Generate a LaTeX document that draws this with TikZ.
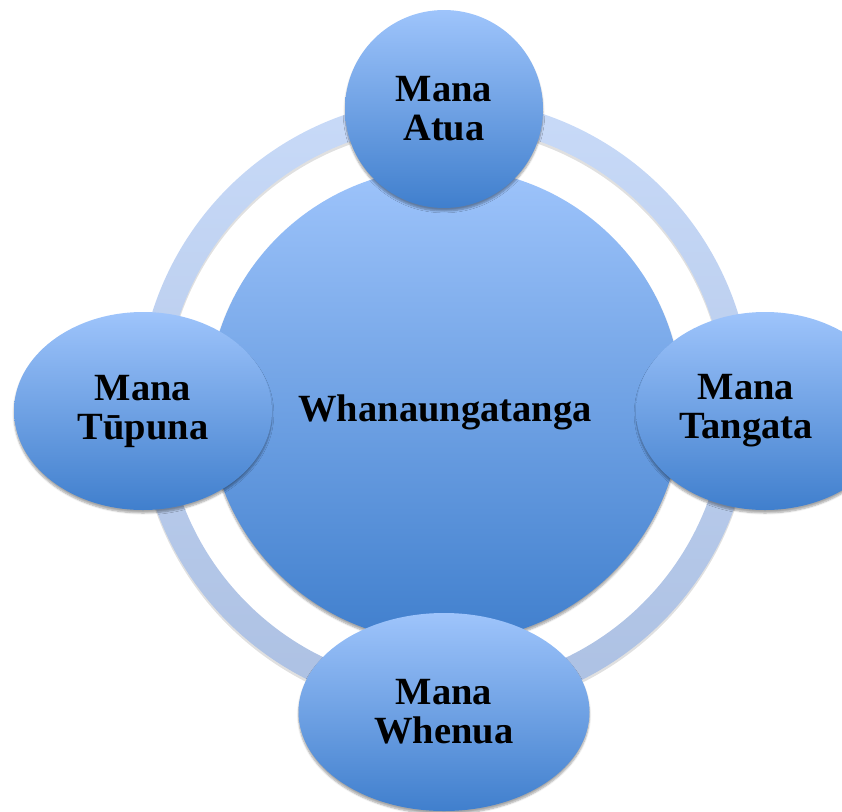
\documentclass[tikz,border=0pt]{standalone}
\usepackage{fontspec}
\setmainfont{Liberation Serif}
\usetikzlibrary{shapes.geometric, shadows.blur}

\definecolor{bubbletop}{RGB}{158,196,251}
\definecolor{bubblebot}{RGB}{64,127,205}
\definecolor{ringtop}{RGB}{200,218,248}
\definecolor{ringbot}{RGB}{172,192,226}

\begin{document}
\begin{tikzpicture}[x=1pt,y=-1pt,
    bubble/.style={ellipse, inner sep=0pt, align=center,
        top color=bubbletop, bottom color=bubblebot, draw=none,
        font=\fontsize{38.5}{39}\selectfont\bfseries,
        blur shadow={shadow xshift=0pt, shadow yshift=-3pt,
            shadow opacity=35, shadow blur steps=6}},
    caption/.style={align=center, inner sep=0pt,
        font=\fontsize{38.5}{39}\selectfont\bfseries}]
        % fix the size of the page
        \useasboundingbox (0,0) rectangle (842,811);
        \clip (0,0) rectangle (842,811);

        % draw the ring behind the bubbles
        \fill[black, opacity=0.12, even odd rule]
            (445,408) circle (307) (445,408) circle (280);
        \shade[even odd rule, top color=ringtop, bottom color=ringbot]
            (445,405) circle (307) (445,405) circle (280);

        % the centre
        \node[bubble, minimum size=474pt] (hub) at (445,405) {};
        \node[caption] (hub-text) at ([yshift=-7pt]hub.center) {Whanaungatanga};

        % the four bubbles round it
        \node[bubble, minimum width=198pt, minimum height=198pt] (atua) at (444,109) {Mana\\Atua};
        \node[bubble, minimum width=258pt, minimum height=198pt] (tupuna) at (143,411) {Mana\\Tūpuna};
        \node[bubble, minimum width=258pt, minimum height=198pt] (tangata) at (765,411) {};
        \node[caption] (tangata-text) at ([xshift=-19pt]tangata.center) {Mana\\Tangata};
        \node[bubble, minimum width=291pt, minimum height=198pt] (whenua) at (444,712) {Mana\\Whenua};
    \end{tikzpicture}
\end{document}
